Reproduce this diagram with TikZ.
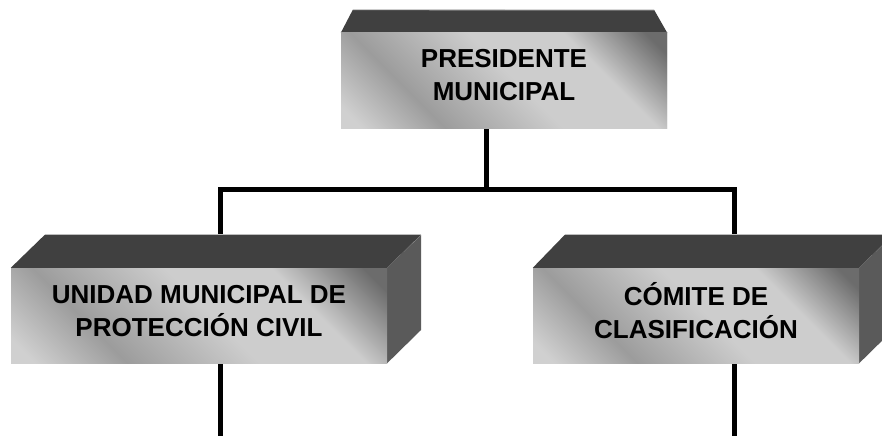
\documentclass[tikz,border=0pt]{standalone}
\usepackage{fontspec}
\setmainfont{Liberation Sans}
\definecolor{shA}{HTML}{D0D0D0}
\definecolor{shB}{HTML}{9C9C9C}
\definecolor{shC}{HTML}{CDCDCD}
\definecolor{shD}{HTML}{6C6C6C}
\definecolor{topface}{HTML}{404040}
\definecolor{sideface}{HTML}{5A5A5A}
\definecolor{rimcol}{HTML}{BDBDBD}
\pgfdeclarehorizontalshading{boxshade}{100bp}{%
  color(0bp)=(shA); color(18bp)=(shA); color(32bp)=(shB); color(52bp)=(shC);
  color(68bp)=(shC); color(82bp)=(shD); color(100bp)=(shD)}
\tikzset{
  front/.style={rectangle, minimum width=#1, minimum height=95pt, inner sep=0pt,
    shading=boxshade, shading angle=45, draw=none},
  boxtext/.style={align=center, font=\fontsize{26}{33}\selectfont\bfseries, inner sep=0pt},
  topf/.style={fill=topface, draw=none},
  sidef/.style={fill=sideface, draw=none},
  rim/.style={draw=rimcol, line width=0.8pt},
  conn/.style={line width=5pt, draw=black, line join=miter},
}
\begin{document}
\begin{tikzpicture}[x=1pt,y=-1pt]
\useasboundingbox (0,0) rectangle (882,436);
\clip (0,0) rectangle (882,436);
% connector points
\coordinate (busM) at (486.5,189.5);
\coordinate (busL) at (220.5,189.5);
\coordinate (busR) at (734.5,189.5);
\coordinate (endL) at (220.5,436);
\coordinate (endR) at (734.5,436);
% boxes
\node[front=326pt] (pres) at (504,80.5) {};
\node[front=376pt] (unid) at (199,315.5) {};
\node[front=326pt] (comi) at (696,315.5) {};
\draw[conn] (pres.south -| busM) -- (busM);
\draw[conn] (busL |- unid.north) -- (busL) -- (busR) -- (busR |- comi.north);
\draw[conn] (busL |- unid.south) -- (endL);
\draw[conn] (busR |- comi.south) -- (endR);
% top faces and sides
\fill[topf] (pres.north west) -- ++(12,-23) coordinate (pA) -- ([xshift=-13pt]pres.north east |- 0,10) coordinate (pB) -- (pres.north east) -- cycle;
\draw[rim] (pA) -- (pB);
\fill[topf] (unid.north west) -- ++(34,-33) coordinate (uA) -- ++(376,0) coordinate (uB) -- (unid.north east) -- cycle;
\fill[sidef] (unid.north east) -- ++(34,-33) -- ++(0,95) -- (unid.south east) -- cycle;
\draw[rim] (uA) -- (uB);
\fill[topf] (comi.north west) -- ++(32,-33) coordinate (cA) -- ++(328,0) coordinate (cB) -- (comi.north east) -- cycle;
\fill[sidef] (comi.north east) -- ++(34,-33) -- ++(0,95) -- (comi.south east) -- cycle;
\draw[rim] (cA) -- (cB);
% fronts redrawn above connectors
\node[front=326pt] at (pres) {};
\node[front=376pt] at (unid) {};
\node[front=326pt] at (comi) {};
% texts
\node[boxtext] (presT) at ([yshift=5.5pt]pres.center) {PRESIDENTE\\MUNICIPAL};
\node[boxtext] (unidT) at ([yshift=4.5pt]unid.center) {UNIDAD MUNICIPAL DE\\PROTECCIÓN CIVIL};
\node[boxtext] (comiT) at ([yshift=4.5pt]comi.center) {CÓMITE DE\\CLASIFICACIÓN};
\end{tikzpicture}
\end{document}
